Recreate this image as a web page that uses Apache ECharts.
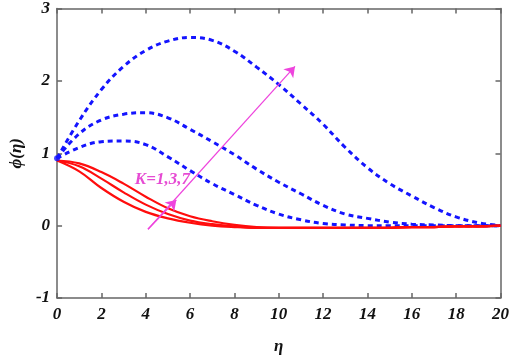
<!DOCTYPE html>
<html>
<head>
<meta charset="utf-8">
<script src="https://cdn.jsdelivr.net/npm/echarts@6/dist/echarts.min.js"></script>
<style>
  html, body { margin: 0; padding: 0; background: #fff; }
  #main { width: 512px; height: 360px; }
</style>
</head>
<body>
<div id="main"></div>
<script>
var eta = [0, 1, 2, 3, 4, 5, 6, 7, 8, 9, 10, 11, 12, 13, 14, 15, 16, 17, 18, 19, 20];

// blue dashed curves
var blueHigh = [0.93, 1.45, 1.88, 2.2, 2.42, 2.55, 2.6, 2.56, 2.41, 2.19, 1.95, 1.68, 1.4, 1.08, 0.8, 0.58, 0.41, 0.25, 0.12, 0.04, 0];
var blueMid = [0.93, 1.27, 1.46, 1.54, 1.56, 1.49, 1.33, 1.16, 0.98, 0.78, 0.6, 0.44, 0.28, 0.16, 0.1, 0.05, 0.02, 0.01, 0, 0, 0];
var blueLow = [0.93, 1.08, 1.16, 1.17, 1.12, 0.95, 0.76, 0.58, 0.43, 0.28, 0.16, 0.08, 0.03, 0.01, 0, 0, 0, 0, 0, 0, 0];

// red solid curves
var redTop = [0.9, 0.86, 0.74, 0.58, 0.4, 0.24, 0.13, 0.06, 0.01, -0.02, -0.03, -0.03, -0.03, -0.03, -0.03, -0.03, -0.02, -0.02, -0.01, -0.01, 0];
var redMid = [0.9, 0.82, 0.65, 0.46, 0.29, 0.16, 0.07, 0.02, -0.01, -0.03, -0.03, -0.03, -0.03, -0.03, -0.03, -0.03, -0.02, -0.02, -0.01, -0.01, 0];
var redLow = [0.9, 0.75, 0.52, 0.33, 0.19, 0.1, 0.04, 0, -0.02, -0.03, -0.03, -0.03, -0.03, -0.03, -0.03, -0.03, -0.02, -0.02, -0.01, -0.01, 0];

var xTicks = [0, 2, 4, 6, 8, 10, 12, 14, 16, 18, 20];
var yTicks = [-1, 0, 1, 2, 3];

var arrowStart = [4.1, -0.05];
var arrowMid = [5.38, 0.355];
var arrowEnd = [10.73, 2.2];
var labelPos = [4.75, 0.64];
var labelText = 'K=1,3,7';

function pairs(ys) {
  return eta.map(function (x, i) { return [x, ys[i]]; });
}

var tickFont = {
  fontFamily: 'Liberation Serif',
  fontStyle: 'italic',
  fontWeight: 'bold',
  fontSize: 17,
  color: '#111'
};
var axisGrey = { color: '#666', width: 1.5 };

function dashed(ys) {
  return {
    type: 'line', data: pairs(ys), smooth: 0.4, showSymbol: false,
    lineStyle: { color: '#1414ff', width: 3, type: [5, 4] }, z: 3
  };
}
function solid(ys) {
  return {
    type: 'line', data: pairs(ys), smooth: 0.4, showSymbol: false,
    lineStyle: { color: '#ff0d0d', width: 2.2 }, z: 4
  };
}

function frameAxis(extra) {
  return Object.assign({
    type: 'value',
    axisLine: { onZero: false, lineStyle: axisGrey },
    axisTick: { inside: true, length: 5, lineStyle: axisGrey },
    splitLine: { show: false }
  }, extra);
}

var myChart = echarts.init(document.getElementById('main'));
var option = {
  animation: false,
  backgroundColor: '#fff',
  grid: { left: 34, right: 10, top: 8, bottom: 59 },
  xAxis: [
    frameAxis({
      min: xTicks[0], max: xTicks[xTicks.length - 1], interval: 2,
      name: 'η', nameLocation: 'middle', nameGap: 40,
      nameTextStyle: tickFont,
      axisLabel: tickFont
    }),
    frameAxis({
      position: 'top', min: 0, max: 20, interval: 2,
      axisLabel: { show: false }
    })
  ],
  yAxis: [
    frameAxis({
      min: yTicks[0], max: yTicks[yTicks.length - 1], interval: 1,
      name: 'ϕ(η)', nameLocation: 'middle', nameGap: 20,
      nameTextStyle: tickFont,
      axisLabel: Object.assign({ margin: 7 }, tickFont)
    }),
    frameAxis({
      position: 'right', min: -1, max: 3, interval: 1,
      axisLabel: { show: false }
    })
  ],
  series: [
    dashed(blueHigh),
    dashed(blueMid),
    dashed(blueLow),
    solid(redTop),
    solid(redMid),
    solid(redLow),
    {
      type: 'scatter', data: [[0, 0.93]], symbolSize: 6,
      itemStyle: { color: '#1414ff' }, z: 5
    },
    {
      type: 'scatter', data: [labelPos], symbolSize: 0, z: 6,
      label: {
        show: true, position: 'inside', formatter: labelText,
        fontFamily: 'Liberation Serif', fontStyle: 'italic', fontWeight: 'bold',
        fontSize: 17, color: '#e01ec8'
      },
      markLine: {
        silent: true, symbol: ['none', 'arrow'], symbolSize: 10,
        label: { show: false },
        lineStyle: { color: '#ee44dd', width: 1.2, type: 'solid' },
        data: [
          [{ coord: arrowStart }, { coord: arrowEnd }],
          [{ coord: arrowStart }, { coord: arrowMid }]
        ]
      }
    }
  ]
};
myChart.setOption(option);
</script>
</body>
</html>
